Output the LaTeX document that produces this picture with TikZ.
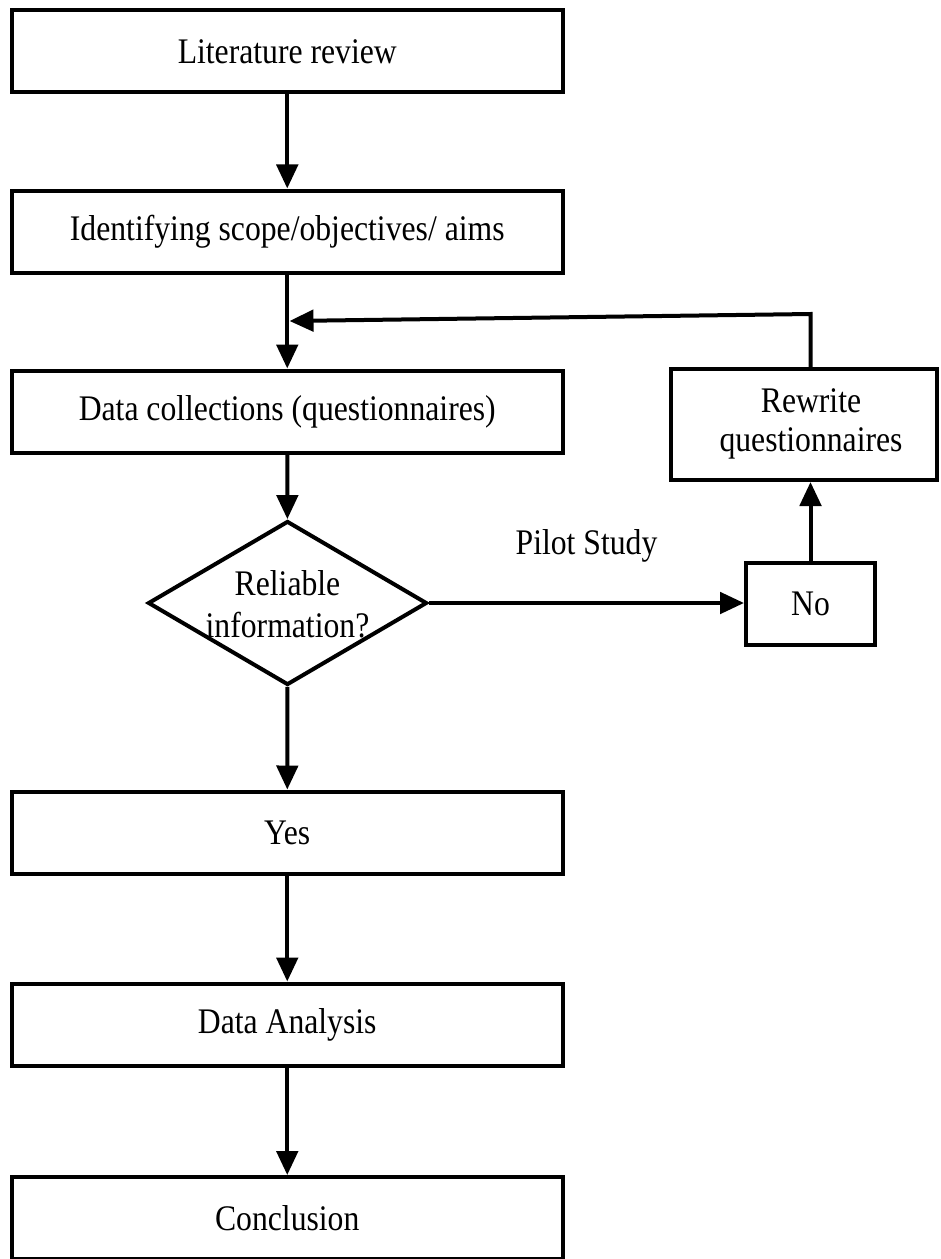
\documentclass[tikz,border=0pt]{standalone}
\usepackage{fontspec}
\setmainfont{Liberation Serif}[FakeStretch=0.88]
\usetikzlibrary{arrows.meta,shapes.geometric}
\begin{document}
\begin{tikzpicture}[x=0.75pt,y=-0.75pt,
  txt/.style={font=\fontsize{27}{30}\selectfont, inner sep=0pt},
  box/.style={txt, draw, line width=3pt, minimum width=413.6pt, minimum height=61.5pt},
  dia/.style={draw, diamond, line width=3pt, minimum width=209.25pt, minimum height=123pt, inner sep=0pt},
  arr/.style={line width=3pt, -{Triangle[length=18pt,width=16pt]}},
  ln/.style={line width=3pt}]
\useasboundingbox (0,0) rectangle (940,1259);
\node[box] (lit) at (287.25,51.5) {Literature review};
\node[box] (idn) at (287.25,231.5) {Identifying scope/objectives/ aims};
\node[box] (dc) at (287.25,411.5) {Data collections (questionnaires)};
\node[dia] (dec) at (287.5,603) {};
\node[txt, align=center, font=\fontsize{27}{31.5}\selectfont] (dect) at (287.5,604) {Reliable\\information?};
\node[box] (yes) at (287.25,832.5) {Yes};
\node[box] (da) at (287.25,1024.5) {Data Analysis};
\node[box] (con) at (287.25,1218) {Conclusion};
\node[txt, draw, line width=3pt, minimum width=96.75pt, minimum height=61.5pt] (no) at (810.5,604) {No};
\node[draw, line width=3pt, minimum width=199.5pt, minimum height=83.25pt, inner sep=0pt] (rw) at (804,424.5) {};
\node[txt, align=center, font=\fontsize{27}{29.25}\selectfont] (rwt) at (811,424) {Rewrite\\questionnaires};
\node[txt, anchor=base] (pilot) at (586.5,554) {Pilot Study};
\coordinate (c) at (810.5,314);
\coordinate (j) at (289.5,321);
\draw[arr] (lit) -- (idn);
\draw[arr] (idn) -- (dc);
\draw[arr] (dc) -- (dec);
\draw[arr] (dec) -- (yes);
\draw[arr] (yes) -- (da);
\draw[arr] (da) -- (con);
\draw[arr] (dec.east) -- (dec.east -| no.west);
\draw[arr] (no.north) -- (no.north |- rw.south);
\draw[arr] (no.north |- rw.north) -- (c) -- (j);
\end{tikzpicture}
\end{document}
